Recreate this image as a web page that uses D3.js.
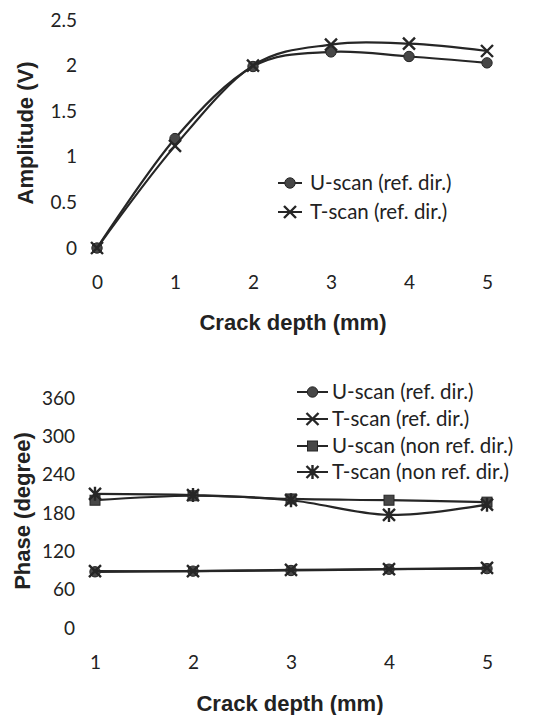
<!DOCTYPE html>
<html>
<head>
<meta charset="utf-8">
<script src="https://cdn.jsdelivr.net/npm/d3@7"></script>
<style>
  body { margin: 0; background: #fff; }
  .tick text { font-family: Lato, "Open Sans", sans-serif; font-size: 19px; fill: #222; }
  .legend text { font-family: Lato, "Open Sans", sans-serif; font-size: 20.5px; fill: #222; }
  .title { font-family: "Liberation Sans", Arial, sans-serif; font-weight: bold; font-size: 22px; fill: #222; }
</style>
</head>
<body>
<svg id="chart" width="536" height="715"></svg>
<script>
// amplitude chart (top)
var ampDepth = [0, 1, 2, 3, 4, 5];
var ampUScanRef = [0, 1.2, 1.99, 2.15, 2.1, 2.03];
var ampTScanRef = [0, 1.12, 2.0, 2.23, 2.24, 2.16];
var ampTicks = [0, 0.5, 1, 1.5, 2, 2.5];
var ampLegend = ["U-scan (ref. dir.)", "T-scan (ref. dir.)"];

// phase chart (bottom)
var phaseDepth = [1, 2, 3, 4, 5];
var phaseUScanRef = [88, 89, 90, 92, 93];
var phaseTScanRef = [89, 89, 91, 92, 94];
var phaseUScanNonRef = [200, 207, 202, 200, 197];
var phaseTScanNonRef = [210, 208, 200, 177, 193];
var phaseTicks = [0, 60, 120, 180, 240, 300, 360];
var phaseLegend = ["U-scan (ref. dir.)", "T-scan (ref. dir.)", "U-scan (non ref. dir.)", "T-scan (non ref. dir.)"];

var lineColor = "#262626", markFill = "#474747";
var svg = d3.select("#chart");

function drawMarker(g, kind, x, y) {
  if (kind === "circle") {
    g.append("circle").attr("cx", x).attr("cy", y).attr("r", 5.2)
      .attr("fill", markFill).attr("stroke", lineColor).attr("stroke-width", 1);
  } else if (kind === "square") {
    g.append("rect").attr("x", x - 5).attr("y", y - 5).attr("width", 10).attr("height", 10)
      .attr("fill", markFill).attr("stroke", lineColor).attr("stroke-width", 1);
  } else {
    var s = 6;
    var p = "M" + (x - s) + "," + (y - s) + "L" + (x + s) + "," + (y + s) +
      "M" + (x - s) + "," + (y + s) + "L" + (x + s) + "," + (y - s);
    if (kind === "star") p += "M" + x + "," + (y - s - 1) + "L" + x + "," + (y + s + 1);
    g.append("path").attr("d", p).attr("fill", "none").attr("stroke", lineColor).attr("stroke-width", 2.4);
  }
}

function drawSeries(g, xs, ys, x, y, kind) {
  var pts = xs.map(function(d, i) { return [x(d), y(ys[i])]; });
  g.append("path").attr("d", d3.line().curve(d3.curveCardinal.tension(0))(pts))
    .attr("fill", "none").attr("stroke", lineColor).attr("stroke-width", 2.2);
  pts.forEach(function(p) { drawMarker(g, kind, p[0], p[1]); });
}

function drawAxes(x, y, xTicks, yTicks, xTitle, yTitle, titleX, titleY, yTitleX, yTitleY) {
  var g = svg.append("g");
  g.append("g").attr("transform", "translate(" + x.range()[0] + ",0)")
    .call(d3.axisLeft(y).tickValues(yTicks).tickSize(0).tickPadding(20).tickFormat(d3.format("")))
    .call(function(a) { a.select(".domain").remove(); });
  g.append("g").attr("transform", "translate(0," + y.range()[0] + ")")
    .call(d3.axisBottom(x).tickValues(xTicks).tickSize(0).tickPadding(28).tickFormat(d3.format("d")))
    .call(function(a) { a.select(".domain").remove(); });
  g.append("text").attr("class", "title").attr("x", titleX).attr("y", titleY)
    .attr("text-anchor", "middle").text(xTitle);
  g.append("text").attr("class", "title").attr("text-anchor", "middle")
    .attr("transform", "translate(" + yTitleX + "," + yTitleY + ") rotate(-90)").text(yTitle);
}

function drawLegend(labels, kinds, x0, x1, tx, rows) {
  var g = svg.append("g").attr("class", "legend");
  labels.forEach(function(label, i) {
    g.append("line").attr("x1", x0).attr("x2", x1).attr("y1", rows[i]).attr("y2", rows[i])
      .attr("stroke", lineColor).attr("stroke-width", 2);
    drawMarker(g, kinds[i], (x0 + x1) / 2, rows[i]);
    g.append("text").attr("x", tx).attr("y", rows[i]).attr("dy", "0.36em").text(label);
  });
}

// top chart
var xAmp = d3.scaleLinear().domain([0, 5]).range([97, 487]);
var yAmp = d3.scaleLinear().domain([0, 2.5]).range([248, 20]);
drawAxes(xAmp, yAmp, ampDepth, ampTicks, "Crack depth (mm)", "Amplitude (V)", 293, 330, 33, 133);
var gAmp = svg.append("g");
drawSeries(gAmp, ampDepth, ampUScanRef, xAmp, yAmp, "circle");
drawSeries(gAmp, ampDepth, ampTScanRef, xAmp, yAmp, "x");
drawLegend(ampLegend, ["circle", "x"], 278, 302, 310, [183, 212]);

// bottom chart
var xPhase = d3.scaleLinear().domain([1, 5]).range([95, 487]);
var yPhase = d3.scaleLinear().domain([0, 360]).range([628, 398]);
drawAxes(xPhase, yPhase, phaseDepth, phaseTicks, "Crack depth (mm)", "Phase (degree)", 290, 711, 30, 511);
var gPhase = svg.append("g");
drawSeries(gPhase, phaseDepth, phaseUScanRef, xPhase, yPhase, "circle");
drawSeries(gPhase, phaseDepth, phaseTScanRef, xPhase, yPhase, "x");
drawSeries(gPhase, phaseDepth, phaseUScanNonRef, xPhase, yPhase, "square");
drawSeries(gPhase, phaseDepth, phaseTScanNonRef, xPhase, yPhase, "star");
drawLegend(phaseLegend, ["circle", "x", "square", "star"], 297, 328, 332, [392, 419, 446, 472]);
</script>
</body>
</html>
